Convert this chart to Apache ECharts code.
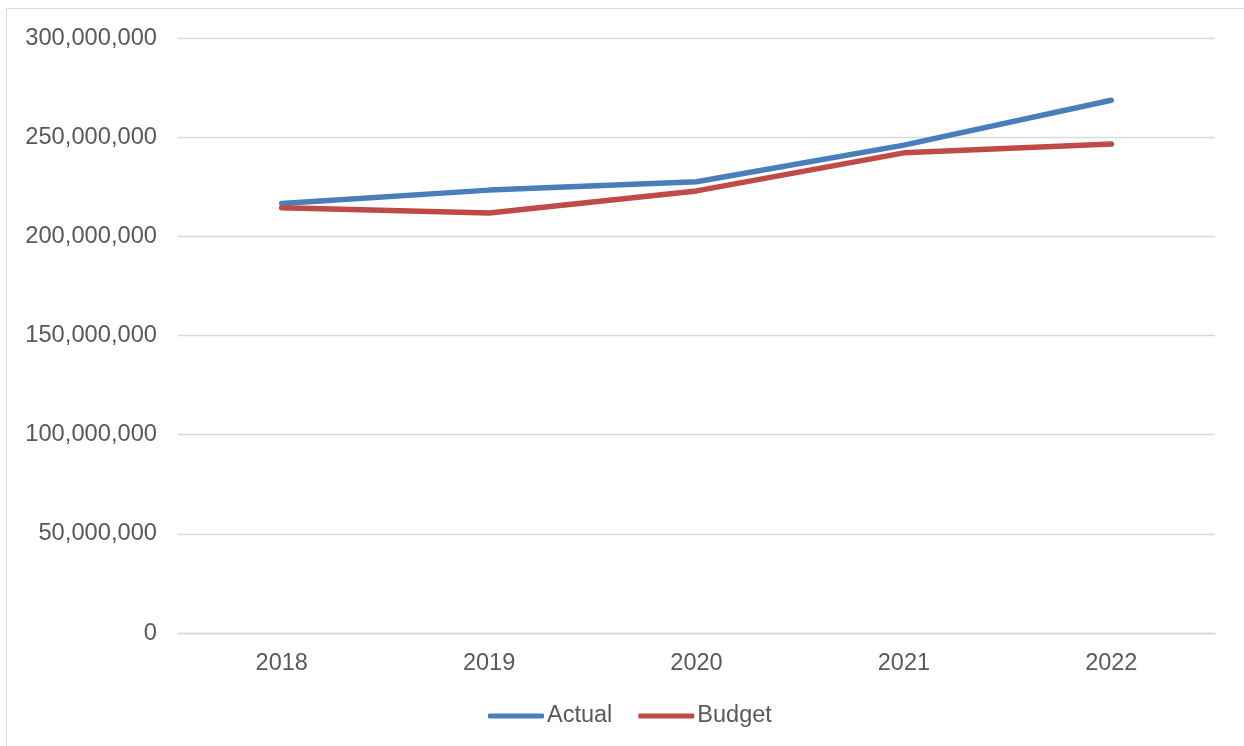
<!DOCTYPE html>
<html>
<head>
<meta charset="utf-8">
<style>
  html, body { margin: 0; padding: 0; background: #fff; }
  #frame { position: absolute; left: 6px; top: 8px; width: 1238px; height: 738px;
           border-left: 1.5px solid #d9d9d9; border-top: 1.5px solid #d9d9d9; box-sizing: border-box; }
  #chart { position: absolute; left: 0; top: 0; width: 1244px; height: 746px; }
</style>
<script src="https://cdn.jsdelivr.net/npm/echarts@6/dist/echarts.min.js"></script>
</head>
<body>
<div id="frame"></div>
<div id="chart"></div>
<script>
// Yearly totals
const years = ['2018', '2019', '2020', '2021', '2022'];
const actual = [216600000, 223300000, 227500000, 246000000, 268600000];
const budget = [214400000, 211800000, 222900000, 242100000, 246500000];

const textColor = '#595959';
const font = 'Liberation Sans, Arial, sans-serif';

const chart = echarts.init(document.getElementById('chart'), null, { renderer: 'canvas' });
chart.setOption({
  animation: false,
  grid: { left: 178, right: 29, top: 38, bottom: 113, containLabel: false },
  xAxis: {
    type: 'category',
    data: years,
    boundaryGap: true,
    axisLine: { show: true, lineStyle: { color: '#d9d9d9', width: 1.3 } },
    axisTick: { show: false },
    axisLabel: { color: textColor, fontFamily: font, fontSize: 23.5, margin: 19 }
  },
  yAxis: {
    type: 'value',
    min: 0,
    max: 300000000,
    interval: 50000000,
    axisLine: { show: false },
    axisTick: { show: false },
    splitLine: { lineStyle: { color: '#d9d9d9', width: 1.3 } },
    axisLabel: {
      color: textColor, fontFamily: font, fontSize: 23.7, margin: 21,
      padding: [11, 0, 0, 0],
      formatter: v => v.toLocaleString('en-US')
    }
  },
  legend: {
    bottom: 18,
    left: 488,
    padding: 0,
    icon: 'roundRect',
    itemWidth: 56,
    itemHeight: 5,
    itemGap: 26,
    textStyle: { color: textColor, fontFamily: font, fontSize: 23.5, padding: [0, 0, 0, -2] },
    data: ['Actual', 'Budget']
  },
  series: [
    {
      name: 'Actual', type: 'line', data: actual, symbol: 'none',
      lineStyle: { color: '#4a7ebb', width: 5.5, cap: 'round', join: 'round' },
      itemStyle: { color: '#4a7ebb' }
    },
    {
      name: 'Budget', type: 'line', data: budget, symbol: 'none',
      lineStyle: { color: '#be4b48', width: 5.5, cap: 'round', join: 'round' },
      itemStyle: { color: '#be4b48' }
    }
  ]
});
</script>
</body>
</html>
